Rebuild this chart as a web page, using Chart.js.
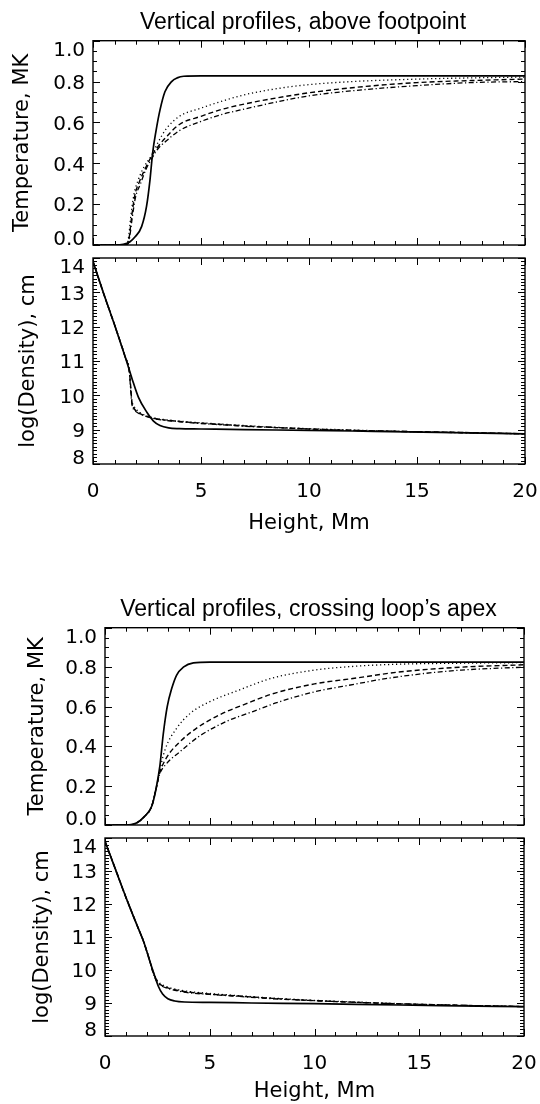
<!DOCTYPE html>
<html>
<head>
<meta charset="utf-8">
<script src="https://cdn.jsdelivr.net/npm/chart.js@4.4.1/dist/chart.umd.min.js"></script>
<style>
  html, body { margin: 0; padding: 0; background: #fff; }
  body { width: 540px; height: 1104px; position: relative; overflow: hidden; }
  canvas { position: absolute; left: 0; }
</style>
</head>
<body>
<canvas id="footTemp" width="540" height="250" style="top:0px"></canvas>
<canvas id="footDens" width="540" height="290" style="top:250px"></canvas>
<canvas id="apexTemp" width="540" height="243" style="top:587px"></canvas>
<canvas id="apexDens" width="540" height="274" style="top:830px"></canvas>
<script>
// Данные (высота в Мм)
// --- над основанием петли: температура, МК
const footTempSolidX = [0, 1.0, 1.4, 1.7, 1.95, 2.25, 2.48, 2.64, 2.76, 2.92, 3.1, 3.33, 3.64, 3.9, 4.2, 5, 20];
const footTempSolid  = [0, 0, 0.003, 0.015, 0.04, 0.09, 0.19, 0.32, 0.45, 0.56, 0.66, 0.75, 0.80, 0.818, 0.826, 0.828, 0.828];
const footTempDotX   = [0, 1.2, 1.55, 1.65, 1.75, 1.9, 2.1, 2.35, 2.72, 3.0, 3.4, 4.0, 5.0, 6.0, 7.0, 8.5, 10, 12, 15, 17.5, 20];
const footTempDot    = [0, 0, 0.005, 0.04, 0.14, 0.25, 0.32, 0.38, 0.44, 0.50, 0.57, 0.63, 0.67, 0.705, 0.735, 0.765, 0.785, 0.80, 0.812, 0.818, 0.822];
const footTempDashX  = [0, 1.2, 1.6, 1.68, 1.78, 1.93, 2.15, 2.4, 2.74, 3.0, 3.4, 4.0, 5.0, 6.0, 7.0, 8.5, 10, 12, 15, 17.5, 20];
const footTempDash   = [0, 0, 0.005, 0.04, 0.13, 0.24, 0.31, 0.37, 0.44, 0.48, 0.53, 0.59, 0.63, 0.665, 0.69, 0.72, 0.745, 0.77, 0.795, 0.805, 0.812];
const footTempDDotX  = [0, 1.2, 1.62, 1.7, 1.8, 1.96, 2.2, 2.45, 2.76, 3.0, 3.4, 4.0, 5.0, 6.0, 7.0, 8.5, 10, 12, 15, 17.5, 20];
const footTempDDot   = [0, 0, 0.005, 0.04, 0.12, 0.23, 0.30, 0.37, 0.43, 0.47, 0.51, 0.56, 0.605, 0.64, 0.665, 0.70, 0.73, 0.755, 0.78, 0.795, 0.80];

// --- над основанием петли: log(плотности)
const footDensSolidX = [0, 0.5, 1.0, 1.5, 1.8, 2.1, 2.5, 2.8, 3.1, 3.5, 4.0, 5, 7, 10, 13, 16, 20];
const footDensSolid  = [13.9, 12.95, 12.05, 11.1, 10.5, 9.95, 9.5, 9.25, 9.12, 9.05, 9.03, 9.02, 9.0, 8.98, 8.95, 8.92, 8.88];
const footDensX      = [0, 0.5, 1.0, 1.5, 1.68, 1.74, 1.8, 1.9, 2.05, 2.3, 2.7, 3.0, 3.5, 4, 5, 6, 7, 8.5, 10, 12, 15, 17, 20];
const footDensDot    = [13.9, 12.95, 12.05, 11.1, 10.75, 10.25, 9.85, 9.68, 9.56, 9.45, 9.36, 9.32, 9.28, 9.25, 9.2, 9.16, 9.12, 9.07, 9.03, 8.99, 8.94, 8.92, 8.88];
const footDensDash   = [13.9, 12.95, 12.05, 11.1, 10.7, 10.3, 9.8, 9.62, 9.52, 9.43, 9.35, 9.31, 9.27, 9.24, 9.19, 9.15, 9.11, 9.06, 9.02, 8.98, 8.94, 8.92, 8.88];
const footDensDDot   = [13.9, 12.95, 12.05, 11.1, 10.7, 10.2, 9.75, 9.58, 9.5, 9.42, 9.34, 9.3, 9.26, 9.23, 9.18, 9.14, 9.1, 9.06, 9.02, 8.98, 8.94, 8.91, 8.88];

// --- через вершину петли: температура, МК
const apexTempSolidX = [0, 1.0, 1.5, 1.9, 2.23, 2.43, 2.62, 2.78, 2.97, 3.18, 3.42, 3.74, 4.22, 5, 20];
const apexTempSolid  = [0, 0, 0.01, 0.045, 0.095, 0.18, 0.30, 0.46, 0.60, 0.69, 0.76, 0.80, 0.822, 0.826, 0.826];
const apexTempDotX   = [0, 1.0, 1.5, 1.9, 2.23, 2.43, 2.58, 2.86, 3.42, 4.06, 5.0, 6.3, 8.0, 10, 12, 14, 17, 20];
const apexTempDot    = [0, 0, 0.01, 0.045, 0.095, 0.18, 0.26, 0.38, 0.49, 0.565, 0.625, 0.68, 0.745, 0.785, 0.805, 0.815, 0.82, 0.823];
const apexTempDashX  = [0, 1.0, 1.5, 1.9, 2.23, 2.43, 2.6, 2.93, 3.56, 4.36, 5.5, 6.75, 8.0, 10, 12, 14, 17, 20];
const apexTempDash   = [0, 0, 0.01, 0.045, 0.095, 0.18, 0.26, 0.34, 0.42, 0.49, 0.56, 0.615, 0.665, 0.715, 0.745, 0.775, 0.80, 0.812];
const apexTempDDotX  = [0, 1.0, 1.5, 1.9, 2.23, 2.43, 2.6, 2.93, 3.56, 4.5, 5.8, 7.06, 8.2, 10, 12, 13, 15, 17, 20];
const apexTempDDot   = [0, 0, 0.01, 0.045, 0.095, 0.18, 0.255, 0.31, 0.37, 0.45, 0.525, 0.575, 0.62, 0.675, 0.715, 0.735, 0.765, 0.785, 0.80];

// --- через вершину петли: log(плотности)
const apexDensSolidX = [0, 0.5, 1.0, 1.5, 1.85, 2.1, 2.34, 2.55, 2.75, 3.0, 3.33, 3.8, 5, 7, 10, 13, 16, 20];
const apexDensSolid  = [13.9, 13.05, 12.2, 11.4, 10.85, 10.35, 9.88, 9.5, 9.27, 9.13, 9.06, 9.03, 9.02, 9.0, 8.98, 8.95, 8.92, 8.89];
const apexDensX      = [0, 0.5, 1.0, 1.5, 1.85, 2.1, 2.3, 2.5, 2.75, 3.0, 3.5, 4, 5, 6.4, 8, 9.7, 12, 15, 20];
const apexDensDot    = [13.9, 13.05, 12.2, 11.4, 10.85, 10.35, 9.95, 9.68, 9.55, 9.48, 9.4, 9.35, 9.29, 9.22, 9.15, 9.09, 9.03, 8.96, 8.89];
const apexDensDash   = [13.9, 13.05, 12.2, 11.4, 10.85, 10.35, 9.93, 9.65, 9.52, 9.46, 9.38, 9.33, 9.27, 9.21, 9.14, 9.08, 9.02, 8.96, 8.89];
const apexDensDDot   = [13.9, 13.05, 12.2, 11.4, 10.85, 10.35, 9.9, 9.62, 9.5, 9.44, 9.36, 9.31, 9.26, 9.2, 9.13, 9.08, 9.02, 8.96, 8.89];

// Подписи осей
const tempTicks  = [0, 0.2, 0.4, 0.6, 0.8, 1.0];
const tempLabels = ['0.0', '0.2', '0.4', '0.6', '0.8', '1.0'];
const densTicks  = [8, 9, 10, 11, 12, 13, 14];
const densLabels = ['8', '9', '10', '11', '12', '13', '14'];
const heightTicks = [0, 5, 10, 15, 20];

const TICK_FONT = 'DejaVu Sans';
const TITLE_FONT = 'Liberation Sans';

// Стили линий: сплошная, точки, штрихи, штрих-пунктир
const lineStyles = [
    { borderWidth: 1.7, borderDash: [] },
    { borderWidth: 1.3, borderDash: [1.2, 2.8] },
    { borderWidth: 1.4, borderDash: [5, 3] },
    { borderWidth: 1.3, borderDash: [5, 2.5, 1.2, 2.5] }
];

function toPoints(xs, ys) {
    return xs.map((x, i) => ({ x: x, y: ys[i] }));
}

// Рамка с засечками внутрь со всех четырёх сторон, подписи по Y и заголовок
const framePlugin = {
    id: 'frame',
    afterDatasetsDraw(chart, args, opts) {
        const { ctx, chartArea: a, scales: { x, y } } = chart;
        ctx.save();
        ctx.strokeStyle = '#000';
        ctx.lineWidth = 1.4;
        ctx.strokeRect(a.left, a.top, a.width, a.height);

        ctx.lineWidth = 1;
        ctx.beginPath();
        for (let i = 0; i <= 20; i++) {
            const px = Math.round(x.getPixelForValue(i)) + 0.5;
            const len = i % 5 === 0 ? 7 : 4;
            ctx.moveTo(px, a.bottom); ctx.lineTo(px, a.bottom - len);
            ctx.moveTo(px, a.top); ctx.lineTo(px, a.top + len);
        }
        for (let i = 0; i <= opts.yCount; i++) {
            const v = opts.yMin + i * opts.yStep;
            const py = Math.round(y.getPixelForValue(v)) + 0.5;
            const len = i % opts.yMajorEvery === 0 ? 7 : 4;
            ctx.moveTo(a.left, py); ctx.lineTo(a.left + len, py);
            ctx.moveTo(a.right, py); ctx.lineTo(a.right - len, py);
        }
        ctx.stroke();

        // подписи значений по Y (крайние сдвинуты внутрь рамки)
        ctx.fillStyle = '#000';
        ctx.font = '20px "' + TICK_FONT + '"';
        ctx.textAlign = 'right';
        ctx.textBaseline = 'alphabetic';
        opts.ticks.forEach((v, i) => {
            let cy = y.getPixelForValue(v);
            cy = Math.min(Math.max(cy, a.top + 8), a.bottom - 7.5);
            ctx.fillText(opts.labels[i], a.left - 8, cy + 7.3);
        });

        // заголовок над рамкой
        if (opts.title) {
            ctx.font = '23px "' + TITLE_FONT + '"';
            ctx.textAlign = 'center';
            ctx.textBaseline = 'middle';
            ctx.fillText(opts.title, (a.left + a.right) / 2 - 6, a.top - 18.5);
        }
        ctx.restore();
    }
};

function makePanel(id, p) {
    const datasets = p.series.map((s, i) => Object.assign({
        data: toPoints(s[0], s[1]),
        borderColor: '#000',
        pointRadius: 0,
        fill: false,
        cubicInterpolationMode: 'monotone'
    }, lineStyles[i]));

    return new Chart(document.getElementById(id), {
        type: 'line',
        data: { datasets: datasets },
        plugins: [framePlugin],
        options: {
            responsive: false,
            animation: false,
            layout: { padding: p.padding },
            plugins: {
                legend: { display: false },
                tooltip: { enabled: false },
                title: { display: false },
                frame: {
                    yMin: p.yMin, yStep: p.yStep, yCount: p.yCount, yMajorEvery: p.yMajorEvery,
                    ticks: p.yTicks, labels: p.yLabels, title: p.title
                }
            },
            scales: {
                x: {
                    type: 'linear',
                    min: 0,
                    max: 20,
                    display: p.showX,
                    grid: { display: false, drawTicks: false },
                    border: { display: false },
                    afterBuildTicks: s => { s.ticks = heightTicks.map(v => ({ value: v })); },
                    afterFit: s => { s.height = p.xHeight || 0; s.paddingLeft = 0; s.paddingRight = 0; },
                    ticks: {
                        color: '#000',
                        padding: 16,
                        maxRotation: 0,
                        font: { family: TICK_FONT, size: 20 }
                    },
                    title: {
                        display: true,
                        text: 'Height, Mm',
                        color: '#000',
                        font: { family: TICK_FONT, size: 21 },
                        padding: { top: 0, bottom: p.xTitlePad }
                    }
                },
                y: {
                    type: 'linear',
                    min: p.yMin,
                    max: p.yMax,
                    grid: { display: false, drawTicks: false },
                    border: { display: false },
                    ticks: { display: false },
                    afterFit: s => { s.width = p.yWidth; s.paddingTop = 0; s.paddingBottom = 0; },
                    title: {
                        display: true,
                        text: p.yTitle,
                        color: '#000',
                        font: { family: TICK_FONT, size: 21 },
                        padding: { top: p.yTitlePad, bottom: 0 }
                    }
                }
            }
        }
    });
}

const tempAxis = { yMin: 0, yMax: 1, yStep: 0.05, yCount: 20, yMajorEvery: 4,
    yTicks: tempTicks, yLabels: tempLabels, yTitle: 'Temperature, MK' };
const densAxis = { yMin: 8, yMax: 14, yStep: 0.1, yCount: 60, yMajorEvery: 10,
    yTicks: densTicks, yLabels: densLabels, yTitle: 'log(Density), cm' };

makePanel('footTemp', Object.assign({}, tempAxis, {
    title: 'Vertical profiles, above footpoint',
    padding: { top: 40.7, right: 15, bottom: 5, left: 0 },
    yWidth: 93, yTitlePad: 9.5, showX: false,
    series: [[footTempSolidX, footTempSolid], [footTempDotX, footTempDot],
             [footTempDashX, footTempDash], [footTempDDotX, footTempDDot]]
}));

makePanel('footDens', Object.assign({}, densAxis, {
    padding: { top: 8, right: 15, bottom: 0, left: 0 },
    yWidth: 93, yTitlePad: 16, showX: true, xHeight: 76, xTitlePad: 4,
    series: [[footDensSolidX, footDensSolid], [footDensX, footDensDot],
             [footDensX, footDensDash], [footDensX, footDensDDot]]
}));

makePanel('apexTemp', Object.assign({}, tempAxis, {
    title: 'Vertical profiles, crossing loop\u2019s apex',
    padding: { top: 40.7, right: 16, bottom: 5, left: 0 },
    yWidth: 105, yTitlePad: 25, showX: false,
    series: [[apexTempSolidX, apexTempSolid], [apexTempDotX, apexTempDot],
             [apexTempDashX, apexTempDash], [apexTempDDotX, apexTempDDot]]
}));

makePanel('apexDens', Object.assign({}, densAxis, {
    padding: { top: 8, right: 16, bottom: 0, left: 0 },
    yWidth: 105, yTitlePad: 30, showX: true, xHeight: 68, xTitlePad: 0,
    series: [[apexDensSolidX, apexDensSolid], [apexDensX, apexDensDot],
             [apexDensX, apexDensDash], [apexDensX, apexDensDDot]]
}));
</script>
</body>
</html>
